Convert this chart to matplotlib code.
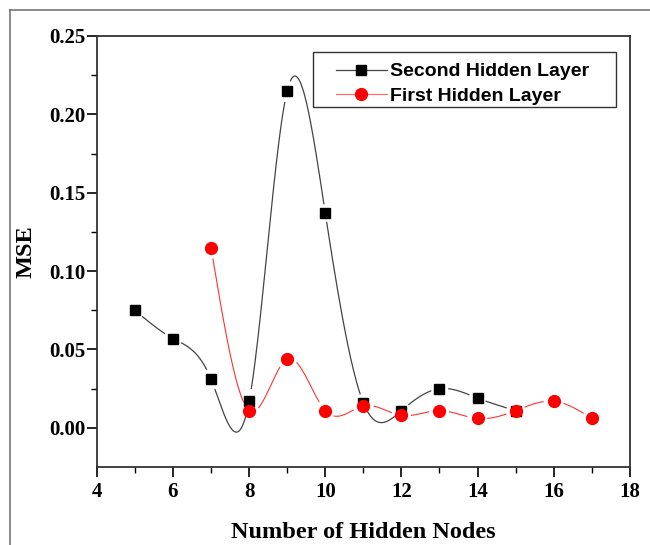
import numpy as np
import matplotlib.pyplot as plt
from matplotlib.lines import Line2D
from matplotlib.patches import Rectangle

# data
second_x = [5, 6, 7, 8, 9, 10, 11, 12, 13, 14, 15]
second_mse = [0.075, 0.057, 0.031, 0.017, 0.215, 0.137, 0.016, 0.011, 0.025, 0.019, 0.011]
first_x = [7, 8, 9, 10, 11, 12, 13, 14, 15, 16, 17]
first_mse = [0.115, 0.011, 0.044, 0.011, 0.014, 0.008, 0.011, 0.006, 0.011, 0.017, 0.006]

x_ticks = [4, 6, 8, 10, 12, 14, 16, 18]
y_ticks = [0.00, 0.05, 0.10, 0.15, 0.20, 0.25]


def natural_spline(x, y, n=400):
    """Natural cubic spline through the points (Origin-style 'Spline' connect)."""
    x = np.asarray(x, float)
    y = np.asarray(y, float)
    k = len(x)
    h = np.diff(x)
    A = np.zeros((k, k))
    b = np.zeros(k)
    A[0, 0] = A[-1, -1] = 1
    for i in range(1, k - 1):
        A[i, i - 1] = h[i - 1]
        A[i, i] = 2 * (h[i - 1] + h[i])
        A[i, i + 1] = h[i]
        b[i] = 6 * ((y[i + 1] - y[i]) / h[i] - (y[i] - y[i - 1]) / h[i - 1])
    m = np.linalg.solve(A, b)
    xs = np.linspace(x[0], x[-1], n)
    idx = np.clip(np.searchsorted(x, xs) - 1, 0, k - 2)
    x0, x1 = x[idx], x[idx + 1]
    y0, y1 = y[idx], y[idx + 1]
    m0, m1 = m[idx], m[idx + 1]
    hh = x1 - x0
    t0 = x1 - xs
    t1 = xs - x0
    ys = (m0 * t0 ** 3 + m1 * t1 ** 3) / (6 * hh) + (y0 / hh - m0 * hh / 6) * t0 + (y1 / hh - m1 * hh / 6) * t1
    return xs, ys


def gap_at_markers(ax, xs, ys, px, py, gap):
    """Blank the curve near each symbol, like Origin's gap-to-symbol."""
    pts = ax.transData.transform(np.column_stack([xs, ys]))
    mk = ax.transData.transform(np.column_stack([px, py]))
    d = np.min(np.hypot(pts[:, None, 0] - mk[None, :, 0], pts[:, None, 1] - mk[None, :, 1]), axis=1)
    ys = ys.copy()
    ys[d < gap] = np.nan
    return ys


fig = plt.figure(figsize=(6.5, 5.45), dpi=100)
ax = fig.add_axes([0.149, 0.143, 0.82, 0.791])
ax.set_xlim(4, 18)
ax.set_ylim(-0.025, 0.25)

# grey frame around the picture (top and left only)
fig.add_artist(Line2D([0.015, 1.0], [0.982, 0.982], color="#777777", lw=1.2, transform=fig.transFigure))
fig.add_artist(Line2D([0.015, 0.015], [0.0, 0.982], color="#777777", lw=1.2, transform=fig.transFigure))

sx, sy = natural_spline(second_x, second_mse)
fx, fy = natural_spline(first_x, first_mse)
sy = gap_at_markers(ax, sx, sy, second_x, second_mse, 9)
fy = gap_at_markers(ax, fx, fy, first_x, first_mse, 10)

ax.plot(sx, sy, color="#444444", lw=0.9)
ax.plot(second_x, second_mse, ls="none", marker="s", ms=7, color="black")
ax.plot(fx, fy, color="#ff3333", lw=0.8)
ax.plot(first_x, first_mse, ls="none", marker="o", ms=8.5, color="red")

ax.set_xticks(x_ticks)
ax.set_yticks(y_ticks)
ax.set_xticks(np.arange(5, 18, 2), minor=True)
ax.set_yticks([0.025, 0.075, 0.125, 0.175, 0.225], minor=True)
ax.set_yticklabels([f"{v:.2f}" for v in y_ticks])
ax.tick_params(which="major", direction="out", length=7, width=1.2, labelsize=15)
ax.tick_params(axis="y", which="major", pad=1.5)
ax.tick_params(which="minor", direction="out", length=4, width=1.0)
for lab in ax.get_xticklabels() + ax.get_yticklabels():
    lab.set_fontfamily("Liberation Serif")
    lab.set_fontweight("bold")
for sp in ax.spines.values():
    sp.set_linewidth(1.3)
    sp.set_color("#333333")

ax.set_xlabel("Number of Hidden Nodes", fontfamily="Liberation Serif", fontweight="bold",
              fontsize=17.5, labelpad=15)
ax.set_ylabel("MSE", fontfamily="Liberation Serif", fontweight="bold", fontsize=17.5, labelpad=9)

# legend box drawn separately (Origin's frame is wider than its text)
ax.add_patch(Rectangle((0.405, 0.835), 0.569, 0.128, transform=ax.transAxes, fill=True,
                       facecolor="white", edgecolor="#333333", lw=1.0, zorder=4))
handles = [
    Line2D([], [], color="#444444", lw=0.9, marker="s", ms=7, mfc="black", mec="black"),
    Line2D([], [], color="#ff6666", lw=0.8, marker="o", ms=8.5, mfc="red", mec="red"),
]
leg = ax.legend(handles, ["Second Hidden Layer", "First Hidden Layer"], loc="upper left",
                bbox_to_anchor=(0.448, 0.938), frameon=False,
                handlelength=2.65, handletextpad=0.15, borderpad=0, borderaxespad=0,
                labelspacing=0.36,
                prop={"family": "Liberation Sans", "weight": "bold", "size": 14})
leg.set_zorder(5)

fig.savefig("out.png", dpi=100)
